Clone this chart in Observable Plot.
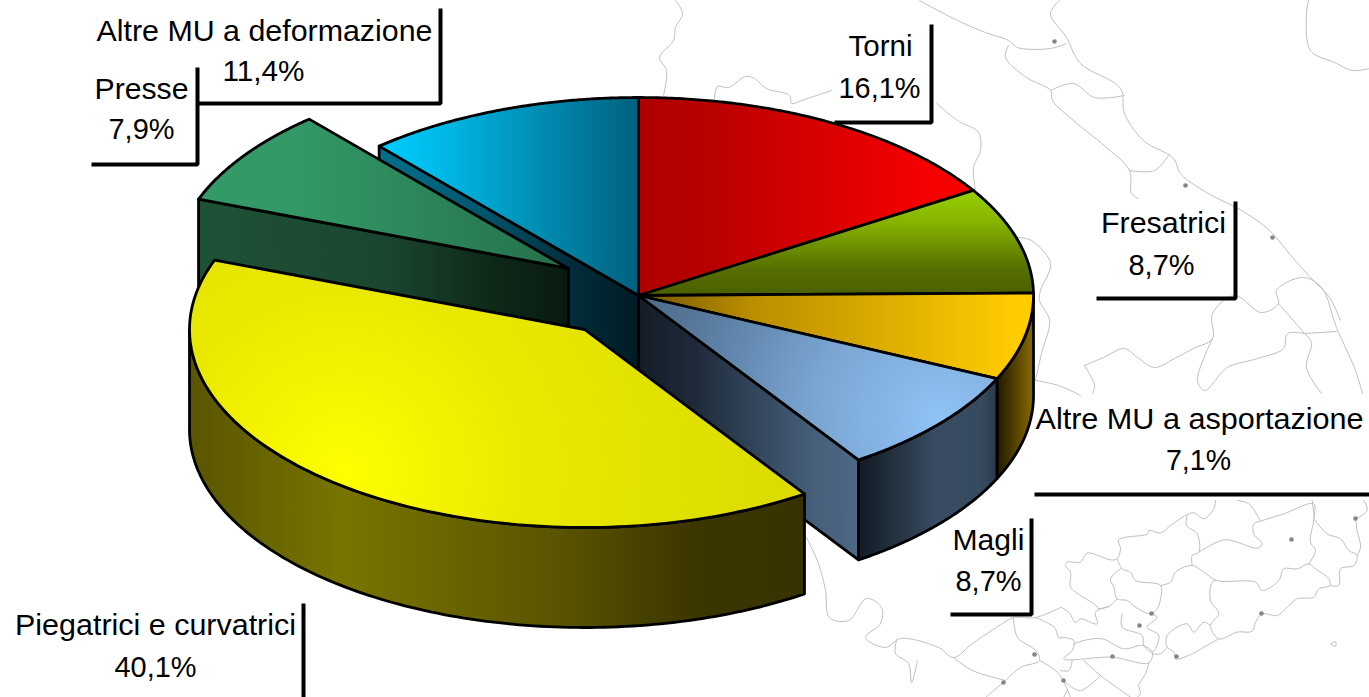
<!DOCTYPE html>
<html><head><meta charset="utf-8">
<style>html,body{margin:0;padding:0;background:#fff;overflow:hidden}svg{display:block}</style>
<script src="https://cdn.jsdelivr.net/npm/d3@7"></script>
<script src="https://cdn.jsdelivr.net/npm/@observablehq/plot@0.6"></script>
</head><body><div id="chart"></div>
<script>
// ---- data ----
const categories = ["Torni","Fresatrici","Altre MU a asportazione","Magli","Piegatrici e curvatrici","Presse","Altre MU a deformazione"];
const shares = [16.1,8.7,7.1,8.7,40.1,7.9,11.4];
const shareLabels = ["16,1%","8,7%","7,1%","8,7%","40,1%","7,9%","11,4%"];

// faint base map behind the pie
const mapLines = [
 [[675,0],[682,13],[675,27],[673,40],[659,57],[666,70],[663,95]],
 [[714,98],[717,86],[728,87],[745,76],[754,78],[766,88],[789,95],[791,103],[801,100],[831,90]],
 [[936,103],[957,120],[978,132],[980,150],[973,167],[975,190]],
 [[919,0],[957,20],[985,32],[1008,40],[1017,47],[1050,48],[1066,43]],
 [[1008,45],[1005,57],[1026,77],[1050,90],[1052,100],[1073,120],[1106,147],[1129,170],[1131,193],[1138,198]],
 [[1059,0],[1050,13],[1066,37],[1080,63],[1120,88],[1124,113],[1143,140],[1173,158],[1180,173],[1206,192],[1241,210],[1269,230],[1292,257],[1310,277],[1329,297],[1340,320]],
 [[1050,90],[1073,83],[1094,97],[1124,95]],
 [[1129,170],[1154,170],[1168,155]],
 [[1308,0],[1306,13],[1310,50],[1334,62],[1352,70],[1369,68]],
 [[1017,237],[1031,240],[1050,263],[1040,290],[1039,300],[1049,320],[1041,353],[1035,380]],
 [[1035,380],[1058,385],[1080,395]],
 [[1084,365],[1103,357],[1124,348],[1137,357],[1154,367],[1174,358],[1193,348],[1212,338],[1212,313],[1234,295],[1261,312],[1278,303],[1276,290],[1302,277],[1321,287],[1336,327],[1355,370],[1362,393]],
 [[1084,365],[1094,385],[1092,393]],
 [[1278,303],[1304,333],[1311,342],[1306,367],[1321,393]],
 [[1304,333],[1336,331]],
 [[1304,333],[1287,333],[1283,348],[1257,358],[1227,367],[1204,390],[1197,380],[1212,338]],
 [[806,537],[818,563],[825,590],[829,617],[848,620],[866,598],[881,607],[880,623],[865,637],[885,647],[900,638],[938,647],[953,657],[972,643],[1002,623],[1013,617],[1035,617],[1060,607]],
 [[1035,617],[1054,627],[1058,637],[1060,638]],
 [[1013,617],[1017,637],[1035,650],[1039,660],[1020,667],[1005,680],[985,697]],
 [[1039,660],[1058,673],[1070,697]],
 [[896,640],[895,653],[908,663],[911,682],[917,660]],
 [[953,657],[972,670],[1005,680]]
];
const cropMapLines = [
 [[465,0],[460,25],[430,55],[400,37],[375,45],[330,75],[300,97],[265,90],[262,100],[175,118],[180,145],[170,175],[150,178],[80,158],[60,185],[20,185],[15,195],[30,215],[30,260],[60,285],[100,310],[115,325]],
 [[170,175],[185,205],[210,215],[225,240],[300,255],[300,295],[290,325],[270,340],[225,320],[200,300],[170,295],[160,260],[150,235],[180,205]],
 [[300,255],[330,245],[345,215],[395,195],[430,215],[470,240],[585,245],[605,270],[655,240],[670,205],[710,205],[745,190],[765,205],[805,235],[808,255],[775,265],[760,290],[710,295],[680,320],[650,345],[605,340],[585,365],[575,392],[530,395],[475,415],[450,375],[475,340],[450,300],[455,245],[470,240]],
 [[395,195],[395,165],[415,155],[410,100],[378,75],[380,45]],
 [[415,155],[490,118],[530,125],[590,143],[605,130],[580,100],[580,70],[600,62],[670,40],[760,10],[760,55],[750,125],[765,150],[745,190]],
 [[600,62],[565,10],[530,0]],
 [[760,55],[800,100],[840,115],[865,150],[890,165],[880,195],[840,205],[835,255],[808,255]],
 [[755,0],[762,50]],
 [[885,55],[890,90],[900,140],[890,165]],
 [[885,55],[920,30],[910,0]],
 [[115,325],[145,318],[170,295]],
 [[145,318],[105,335],[110,370],[60,355],[45,365],[25,335],[0,320]],
 [[185,340],[185,380],[245,405],[250,435],[275,455],[295,405],[260,380],[290,350],[270,340]],
 [[475,415],[430,440],[395,460],[345,475],[340,455],[320,440],[320,405],[380,370],[400,395],[430,365],[450,375]],
 [[0,410],[40,420],[35,450],[10,475],[155,470],[265,487],[275,455],[245,435],[190,445],[125,415],[70,420],[40,430]],
 [[35,480],[25,510],[0,510]],
 [[70,480],[120,525],[210,590]],
 [[265,487],[255,520],[235,555],[240,580],[230,590]],
 [[120,525],[60,570],[20,550],[5,535]],
 [[10,590],[20,570]],
 [[275,460],[300,460],[320,440]],
 [[810,430],[825,423],[825,438],[810,430]]
];
const mapDots = [[1054,41],[1185,185],[1272,237],[1291,539],[1355,518],[1151,613],[1139,625],[1261,613],[1176,656],[1112,656],[1063,680],[1034,654],[1003,682]];

// ---- layout and style ----
const W = 1369, H = 697;
const cx = 638, cy = 295, rx = 395, ry = 198, depth = 100;
const offsets = {4:[-54,34], 5:[-70,-27]};      // exploded slices

const cum = d3.cumsum(shares), total = d3.sum(shares);
const ang = p => p / total * 2 * Math.PI;
const starts = shares.map((_, i) => ang(i ? cum[i-1] : 0));
const ends = shares.map((_, i) => ang(cum[i]));
const off = i => offsets[i] || [0,0];
const pt = (i, a, dz=0) => { const [ox,oy] = off(i);
  return [cx + ox + rx*Math.sin(a), cy + oy - ry*Math.cos(a) + dz]; };
const arc = (i, a0, a1, dz=0) => d3.range(0, 121).map(k => pt(i, a0 + (a1-a0)*k/120, dz));
const apex = (i, dz=0) => [cx + off(i)[0], cy + off(i)[1] + dz];
const closed = p => [...p, p[0]];
const topFace = i => closed([apex(i), ...arc(i, starts[i], ends[i])]);
const outerWall = (i, a0, a1) => closed([...arc(i,a0,a1), ...arc(i,a0,a1,depth).reverse()]);
const cutWall = (i, a) => closed([apex(i), pt(i,a), pt(i,a,depth), apex(i,depth)]);

const grads = {
  red:   ["h", 640, 972, [[0,"#b00000"],[.2,"#b80000"],[.85,"#f60000"],[1,"#f60000"]]],
  green: ["v", 190, 295, [[0,"#98d000"],[.3,"#86b400"],[.75,"#566e00"],[1,"#4a6000"]]],
  orange:["h", 650, 1033,[[0,"#7a5c00"],[.25,"#b88c00"],[.95,"#ffcc00"],[1,"#ffcc00"]]],
  orangeW:["h",995, 1033,[[0,"#1c1500"],[.9,"#7d6300"],[1,"#7d6300"]]],
  steelC:["h", 640, 858, [[0,"#141c28"],[.25,"#1e2a3a"],[.55,"#34485e"],[.8,"#465f7a"],[1,"#4d6885"]]],
  steelO:["h", 858, 995, [[0,"#121a24"],[.3,"#263444"],[.55,"#384b62"],[.9,"#364a60"],[1,"#2a3a4c"]]],
  yellowW:["h",190, 803, [[0,"#5a5500"],[.25,"#787500"],[.6,"#5a5400"],[.82,"#3c3600"],[1,"#383200"]]],
  teal:  ["h", 199, 568, [[0,"#339966"],[.25,"#339966"],[1,"#24704c"]]],
  tealC: ["h", 199, 568, [[0,"#1e5236"],[.5,"#1a4630"],[.8,"#0e2818"],[1,"#081a10"]]],
  cyan:  ["h", 380, 638, [[0,"#00ccff"],[.2,"#00bdec"],[1,"#00607e"]]],
  cyanC: ["h", 380, 638, [[0,"#00708c"],[.4,"#00566c"],[.75,"#002c3a"],[1,"#001c26"]]]
};
const radials = {
  yellow:[345,470,430,[[0,"#ffff00"],[.12,"#f8f800"],[.45,"#e8e800"],[1,"#dcdc00"]]],
  steel: [940,420,320,[[0,"#90c3f5"],[.4,"#7aa5d2"],[.8,"#587a9e"],[1,"#4e6a88"]]]
};
const defs = () => {
  const d = d3.create("svg:defs");
  for (const [id,[dir,a,b,stops]] of Object.entries(grads)) {
    const g = d.append("linearGradient").attr("id",id).attr("gradientUnits","userSpaceOnUse")
      .attr("x1",dir==="h"?a:0).attr("x2",dir==="h"?b:0).attr("y1",dir==="v"?a:0).attr("y2",dir==="v"?b:0);
    stops.forEach(([o,c]) => g.append("stop").attr("offset",o).attr("stop-color",c));
  }
  for (const [id,[gx,gy,gr,stops]] of Object.entries(radials)) {
    const r = d.append("radialGradient").attr("id",id).attr("gradientUnits","userSpaceOnUse")
      .attr("cx",gx).attr("cy",gy).attr("r",gr);
    stops.forEach(([o,c]) => r.append("stop").attr("offset",o).attr("stop-color",c));
  }
  return d.node();
};
const face = (pts, fill) => Plot.line(pts, {x:d=>d[0], y:d=>d[1], fill:`url(#${fill})`, stroke:"#000", strokeWidth:2.8, strokeLinejoin:"round", curve:"linear"});

const pieces = [
  [cutWall(6, starts[6]), "cyanC"],
  [topFace(6), "cyan"],
  [cutWall(5, starts[5]), "tealC"],
  [topFace(5), "teal"],
  [topFace(0), "red"],
  [topFace(1), "green"],
  [outerWall(2, Math.PI/2, ends[2]), "orangeW"],
  [topFace(2), "orange"],
  [cutWall(3, ends[3]), "steelC"],
  [outerWall(3, starts[3], ends[3]), "steelO"],
  [topFace(3), "steel"],
  [outerWall(4, starts[4], 1.5*Math.PI), "yellowW"],
  [topFace(4), "yellow"]
];

// label placement: centre x, baseline and drawn width of each of the two lines
const labelPlace = [
 {x1:880,y1:55,w1:64,x2:879,y2:97,w2:82},
 {x1:1163,y1:232,w1:125,x2:1161,y2:274,w2:66},
 {x1:1199,y1:428,w1:328,x2:1198,y2:469,w2:65},
 {x1:988,y1:549,w1:72,x2:988,y2:590,w2:66},
 {x1:155,y1:634,w1:281,x2:155,y2:676,w2:82},
 {x1:141,y1:98,w1:94,x2:141,y2:138,w2:66},
 {x1:264,y1:40,w1:336,x2:263,y2:80,w2:82}
];
const rules = [
 [[931,26],[931,122],[836,122]],
 [[1235,203],[1235,298],[1098,298]],
 [[1036,494],[1369,494]],
 [[1031,520],[1031,614],[952,614]],
 [[303,605],[303,697]],
 [[197,69],[197,164],[93,164]],
 [[440,10],[440,103],[199,103]]
];
const labels = categories.flatMap((c,i) => { const p = labelPlace[i]; return [
  {t:c, x:p.x1, y:p.y1, w:p.w1},
  {t:shareLabels[i], x:p.x2, y:p.y2, w:p.w2}
];});
const allMapLines = [...mapLines, ...cropMapLines.map(l => l.map(([a,b]) => [1060+a/3, 500+b/3]))];

const chart = Plot.plot({
  width:W, height:H, margin:0,
  x:{domain:[0,W], range:[0,W], axis:null},
  y:{domain:[0,H], range:[0,H], axis:null},
  style:{background:"#fff", fontFamily:"'Liberation Sans',Arial,sans-serif"},
  marks:[
    defs,
    ...allMapLines.map(l => Plot.line(l,{x:d=>d[0],y:d=>d[1],stroke:"#bdbdbd",strokeWidth:1,strokeDasharray:"2.5 0.8",curve:"catmull-rom"})),
    Plot.dot(mapDots,{x:d=>d[0],y:d=>d[1],r:2.3,fill:"#858585"}),
    ...pieces.map(([p,f]) => face(p,f)),
    ...rules.map(r => Plot.line(r,{x:d=>d[0],y:d=>d[1],stroke:"#000",strokeWidth:4,strokeLinejoin:"miter",strokeLinecap:"square",curve:"linear"})),
    Plot.text(labels,{x:"x",y:"y",text:"t",fontSize:30,textAnchor:"middle",lineAnchor:"bottom",fill:"#000",className:"lab"})
  ]
});
d3.select(chart).selectAll("g.lab text").each(function(d){
  const l = labels[d]; if(!l) return;
  this.setAttribute("textLength", l.w);
  this.setAttribute("lengthAdjust","spacingAndGlyphs");
});
document.getElementById("chart").append(chart);
</script></body></html>
